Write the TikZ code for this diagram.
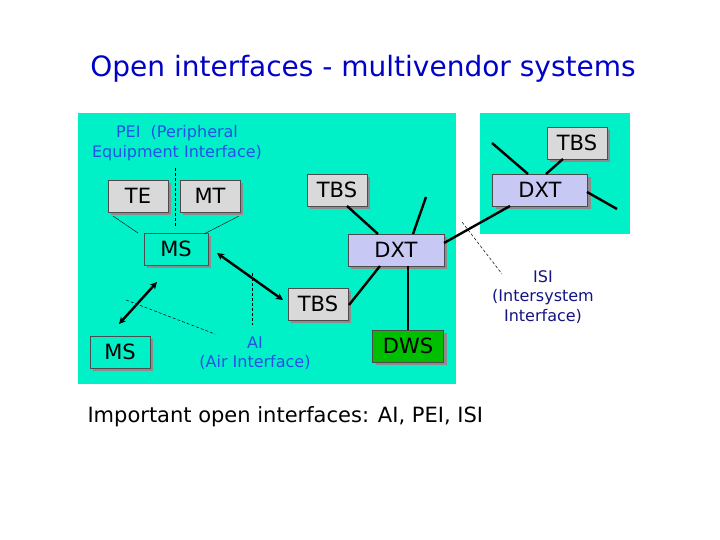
\documentclass[tikz,border=0pt]{standalone}
\usepackage{fontspec}
\setmainfont{DejaVu Sans}
\usetikzlibrary{shadows,arrows.meta}
\definecolor{aqua}{RGB}{0,240,200}
\definecolor{boxgray}{RGB}{217,217,217}
\definecolor{lav}{RGB}{200,200,245}
\definecolor{dws}{RGB}{0,190,0}
\definecolor{ttl}{RGB}{0,0,200}
\definecolor{lbl}{RGB}{40,80,230}
\definecolor{navy}{RGB}{20,20,130}
\begin{document}
\begin{tikzpicture}[x=1pt,y=-1pt,
  box/.style={draw=black!70,line width=0.6pt,minimum height=32pt,inner sep=0pt,font=\fontsize{21}{21}\selectfont,
    drop shadow={shadow xshift=3pt,shadow yshift=-3pt,fill=black!45,opacity=1}},
  fat/.style={line width=2.4pt},
  fine/.style={line width=0.4pt},
  dsh/.style={line width=0.5pt,dash pattern=on 3pt off 2pt},
  dbl/.style={line width=2.4pt,{Stealth[length=7pt,width=7pt]}-{Stealth[length=7pt,width=7pt]}},
  lab/.style={align=center,font=\fontsize{16}{19.5}\selectfont}]
\useasboundingbox (0,0) rectangle (720,540);
\fill[white] (0,0) rectangle (720,540);
\fill[aqua] (78,113) rectangle (456,384);
\fill[aqua] (480,113) rectangle (630,234);
\node[ttl,font=\fontsize{28}{30}\selectfont] (title) at (363,69) {Open interfaces - multivendor systems};
\node[box,fill=boxgray,minimum width=60pt] (te) at (138,196) {TE};
\node[box,fill=boxgray,minimum width=60pt] (mt) at (210,196) {MT};
\node[box,fill=aqua,minimum width=64pt] (ms1) at (176,249) {MS};
\node[box,fill=boxgray,minimum width=60pt] (tbs1) at (337,190) {TBS};
\node[box,fill=lav,minimum width=96pt] (dxt1) at (396,250) {DXT};
\node[box,fill=boxgray,minimum width=60pt] (tbs2) at (318,304) {TBS};
\node[box,fill=aqua,minimum width=60pt] (ms2) at (120,352) {MS};
\node[box,fill=dws,minimum width=71pt] (dws) at (408,346) {DWS};
\node[box,fill=boxgray,minimum width=60pt] (tbs3) at (577,143) {TBS};
\node[box,fill=lav,minimum width=95pt] (dxt2) at (540,190) {DXT};
\node[lab,lbl] (pei) at (177,143) {PEI\ \ (Peripheral\\Equipment Interface)};
\node[lab,lbl] (ai) at (255,353) {AI\\(Air Interface)};
\node[lab,navy] (isi) at (543,297) {ISI\\(Intersystem\\Interface)};
\node[anchor=west,font=\fontsize{21}{23}\selectfont] (imp) at (84,417) {Important open interfaces: AI, PEI, ISI};
% thin PEI links
\draw[fine] (113,216) -- (138,233);
\draw[fine] (239,216) -- (204,234);
% dashed interface markers
\coordinate (p1) at (175,168); \coordinate (p2) at (175,228);
\draw[dsh] (p1) -- (p2);
\coordinate (a1) at (252,273); \coordinate (a2) at (252,325);
\draw[dsh] (a1) -- (a2);
\coordinate (a3) at (126,300); \coordinate (a4) at (215,334);
\draw[dsh] (a3) -- (a4);
\coordinate (i1) at (462,222); \coordinate (i2) at (502,274);
\draw[dsh] (i1) -- (i2);
% thick links
\draw[fat] (347,206) -- (378,234);
\coordinate (u1) at (426,197); \draw[fat] (u1) -- (413,234);
\draw[fat] (444,243) -- (510,206);
\draw[fat] (380,266) -- (349,305);
\draw[fat] (dxt1.south -| dws.north) -- (dws.north);
\draw[dbl] (217,253) -- (283,300);
\draw[dbl] (157,282) -- (119,324);
\coordinate (r1) at (492,143); \draw[fat] (r1) -- (528,174);
\draw[fat] (563,159) -- (546,174);
\coordinate (r2) at (617,209); \draw[fat] (587,192) -- (r2);
\end{tikzpicture}
\end{document}
